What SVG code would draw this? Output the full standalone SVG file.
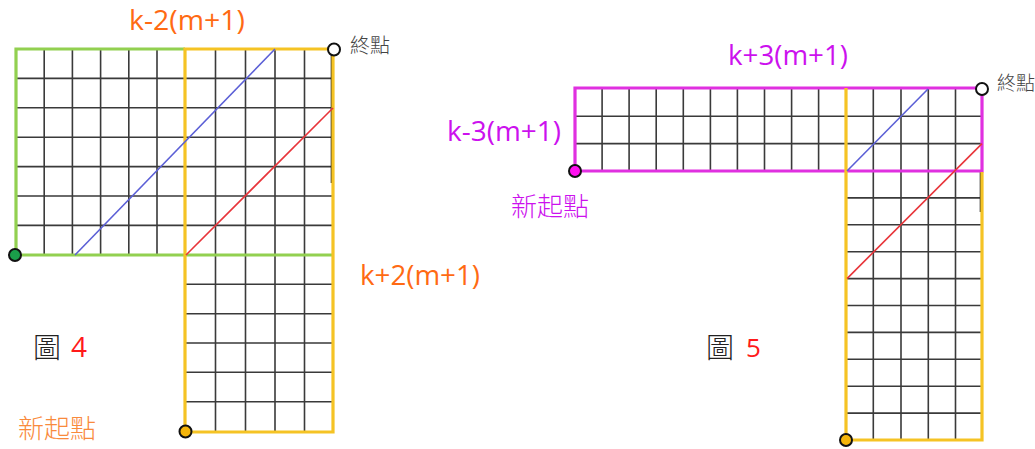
<svg xmlns="http://www.w3.org/2000/svg" width="1035" height="449" viewBox="0 0 1035 449">
  <style>
    .grid { fill: none; stroke: #3a3a3a; stroke-width: 1.6; }
    .green { fill: none; stroke: #92D050; stroke-width: 3.2; }
    .yellow { fill: none; stroke: #F5C324; stroke-width: 3.2; }
    .mag { fill: none; stroke: #E030E0; stroke-width: 3.2; }
    .blue { stroke: #5B5FD6; stroke-width: 1.6; fill: none; }
    .red { stroke: #E8343A; stroke-width: 1.6; fill: none; }
    .dot { stroke: #111; stroke-width: 2; }
    .lat { font-family: "Open Sans", "Noto Sans", sans-serif; }
    .cjk { font-family: "Noto Sans CJK TC", "Noto Sans CJK SC", sans-serif; font-weight: 300; }
    .orange { fill: #FF6A13; }
    .violet { fill: #CC11EE; }
  </style>
  <rect width="1035" height="449" fill="#ffffff"/>

  <!-- Figure 4 -->
  <g id="fig4-grid">
    <path class="grid" d="M44.2,49 V255 M72.4,49 V255 M100.6,49 V255 M128.8,49 V255 M157,49 V255
      M215.5,49 V432 M245.5,49 V432 M275,49 V432 M304.5,49 V432
      M16,78.4 H333 M16,107.8 H333 M16,137.2 H333 M16,166.6 H333 M16,196 H333 M16,225.4 H333
      M185,284.3 H333 M185,313.7 H333 M185,343 H333 M185,372.3 H333 M185,401.7 H333"/>
    <path d="M331.5,49 V183" stroke="#222" stroke-width="1.6"/>
  </g>
  <g id="fig4-green-region">
    <path class="green" d="M185,49 H16 V255 H333"/>
  </g>
  <g id="fig4-yellow-region">
    <path class="yellow" d="M185,432 V49 H333 V432 Z"/>
  </g>

  <!-- Figure 5 -->
  <g id="fig5-grid">
    <path class="grid" d="M602.1,88 V171 M629.1,88 V171 M656.2,88 V171 M683.3,88 V171 M710.4,88 V171 M737.4,88 V171 M764.5,88 V171 M791.6,88 V171 M818.6,88 V171
      M873.3,88 V440 M901,88 V440 M928.3,88 V440 M955.5,88 V440
      M575,116.2 H982 M575,143.6 H982
      M846,197.9 H982 M846,224.8 H982 M846,251.7 H982 M846,278.6 H982 M846,305.5 H982 M846,332.4 H982 M846,359.3 H982 M846,386.2 H982 M846,413.1 H982"/>
    <path d="M980.5,172 V212" stroke="#222" stroke-width="1.6"/>
  </g>
  <g id="fig5-magenta-region">
    <path class="mag" d="M575,171 V88 H982 V171 Z"/>
  </g>
  <g id="fig5-yellow-region">
    <path class="yellow" d="M982,172 V440 H846 V88"/>
  </g>

  <!-- connectors: diagonal paths -->
  <g id="connectors">
    <line class="blue" x1="75" y1="255" x2="275" y2="49"/>
    <line class="red" x1="186" y1="255" x2="333" y2="108"/>
    <line class="blue" x1="847" y1="171" x2="928" y2="89"/>
    <line class="red" x1="847" y1="278.6" x2="982" y2="143.6"/>
  </g>

  <!-- points -->
  <g id="fig4-start-green"><circle class="dot" cx="15" cy="255" r="6" fill="#1A9E4A"/></g>
  <g id="fig4-end"><circle class="dot" cx="334" cy="49.5" r="6" fill="#ffffff"/></g>
  <g id="fig4-new-start"><circle class="dot" cx="185.5" cy="431.5" r="6" fill="#F5B50A"/></g>
  <g id="fig5-start-magenta"><circle class="dot" cx="575" cy="171" r="6" fill="#FF10F0"/></g>
  <g id="fig5-end"><circle class="dot" cx="982" cy="89" r="6" fill="#ffffff"/></g>
  <g id="fig5-new-start"><circle class="dot" cx="846" cy="440" r="6" fill="#F5B50A"/></g>

  <!-- labels -->
  <g id="labels">
    <text class="lat orange" x="129" y="30" font-size="27" textLength="116" lengthAdjust="spacingAndGlyphs">k-2(m+1)</text>
    <text class="cjk" x="350" y="53" font-size="20" fill="#444">終點</text>
    <text class="lat orange" x="360" y="285" font-size="27" textLength="120" lengthAdjust="spacingAndGlyphs">k+2(m+1)</text>
    <text x="33" y="358" font-size="28" class="cjk" fill="#222">圖</text>
    <text class="lat" x="71" y="357" font-size="28" fill="#FF1A1A">4</text>
    <text class="cjk" x="18" y="438" font-size="26" fill="#F98A3C">新起點</text>

    <text class="lat violet" x="728" y="65" font-size="27" textLength="120" lengthAdjust="spacingAndGlyphs">k+3(m+1)</text>
    <text class="lat violet" x="447" y="141" font-size="27" textLength="114" lengthAdjust="spacingAndGlyphs">k-3(m+1)</text>
    <text class="cjk violet" x="511" y="216" font-size="26">新起點</text>
    <text class="cjk" x="997" y="90" font-size="19" fill="#444">終點</text>
    <text x="706" y="358" font-size="28" class="cjk" fill="#222">圖</text>
    <text class="lat" x="746" y="357" font-size="26" fill="#FF1A1A">5</text>
  </g>
</svg>
